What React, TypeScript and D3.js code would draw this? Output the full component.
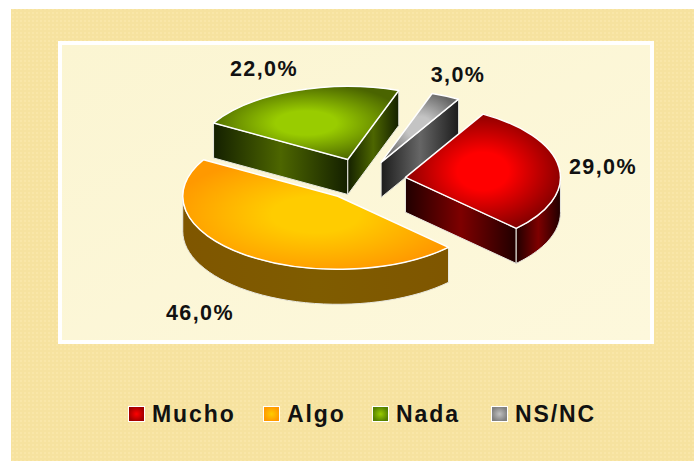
import React from 'react';
import * as d3 from 'd3';

const categories = ['Mucho', 'Algo', 'Nada', 'NS/NC'];
const values = [29, 46, 22, 3];
const explode = [0.27, 0.28, 0.3, 0.265];
const labelPos = [[603, 174], [200, 320], [264, 76], [458, 82]];
const legendX = [128, 263, 372, 491];

const topColors = [['#ff0000', '#7d0000'], ['#ffcc00', '#ff9900'], ['#99cc00', '#4a6400'], ['#c4c4c4', '#666666']];
const wallColors = [['#200000', '#7e0000'], ['#7f5600', '#7f5c00'], ['#142000', '#4d6600'], ['#1c1c1c', '#666666']];
const legendColors = [['#ff0000', '#a00000'], ['#ffcc00', '#ff9900'], ['#99cc00', '#558000'], ['#c0c0c0', '#808080']];

const cx = 364, cy = 180, rx = 155, ry = 73, depth = 35;
const start = (30 * Math.PI) / 180;

const pie = d3.pie<number>().sort(null).startAngle(start).endAngle(start + 2 * Math.PI);
const arcs = pie(values);
const arcPath = d3.arc<d3.PieArcDatum<number>>().innerRadius(0).outerRadius(rx);
const line = d3.line<number[]>();

const px = (a: number) => Math.sin(a) * rx;
const py = (a: number) => -Math.cos(a) * ry;

function apex(a: d3.PieArcDatum<number>, i: number) {
  const mid = (a.startAngle + a.endAngle) / 2;
  return [cx + explode[i] * px(mid), cy + explode[i] * py(mid)];
}

function radialWall(c: number[], ang: number) {
  const x = c[0] + px(ang), y = c[1] + py(ang);
  return line([c, [x, y], [x, y + depth], [c[0], c[1] + depth]]) + 'Z';
}

function outerWall(c: number[], a0: number, a1: number) {
  const n = 40;
  const pts = d3.range(n + 1).map(k => a0 + ((a1 - a0) * k) / n);
  const top = pts.map(a => [c[0] + px(a), c[1] + py(a)]);
  const bot = pts.slice().reverse().map(a => [c[0] + px(a), c[1] + py(a) + depth]);
  return line([...top, ...bot]) + 'Z';
}

// walls that face the viewer for one slice
function walls(a: d3.PieArcDatum<number>, i: number) {
  const c = apex(a, i);
  const out: string[] = [];
  if (Math.sin(a.startAngle) < 0) out.push(radialWall(c, a.startAngle));
  if (Math.sin(a.endAngle) > 0) out.push(radialWall(c, a.endAngle));
  const lo = Math.max(a.startAngle, Math.PI / 2);
  const hi = Math.min(a.endAngle, (3 * Math.PI) / 2);
  if (hi > lo) out.push(outerWall(c, lo, hi));
  return out;
}

const drawOrder = [3, 2, 0, 1];

export default function App() {
  return (
    <svg width={694} height={461} style={{ position: 'absolute', left: 0, top: 0, background: '#fff' }}>
      <defs>
        <pattern id="paper" width="4" height="4" patternUnits="userSpaceOnUse">
          <rect width="4" height="4" fill="#f6e29f" />
          <rect width="2" height="2" fill="#f9e6a8" />
        </pattern>
        <linearGradient id="plotBg" x1="0" y1="0" x2="1" y2="1">
          <stop offset="0" stopColor="#fbf5d2" />
          <stop offset="1" stopColor="#fdf8dc" />
        </linearGradient>
        {categories.map((_, i) => (
          <React.Fragment key={i}>
            <radialGradient id={`top${i}`} r="0.55">
              <stop offset="0" stopColor={topColors[i][0]} />
              <stop offset="0.3" stopColor={topColors[i][0]} />
              <stop offset="1" stopColor={topColors[i][1]} />
            </radialGradient>
            <linearGradient id={`wall${i}`}>
              <stop offset="0" stopColor={wallColors[i][0]} />
              <stop offset="0.5" stopColor={wallColors[i][1]} />
              <stop offset="1" stopColor={wallColors[i][0]} />
            </linearGradient>
            <radialGradient id={`leg${i}`}>
              <stop offset="0" stopColor={legendColors[i][0]} />
              <stop offset="1" stopColor={legendColors[i][1]} />
            </radialGradient>
          </React.Fragment>
        ))}
      </defs>

      <rect x={11} y={9} width={683} height={452} fill="url(#paper)" />
      <rect x={60} y={43} width={592} height={299} fill="url(#plotBg)" stroke="#fff" strokeWidth={4} />

      {drawOrder.map(i => {
        const a = arcs[i];
        const c = apex(a, i);
        return (
          <g key={i}>
            {walls(a, i).map((d, k) => (
              <path key={k} d={d} fill={`url(#wall${i})`} stroke="#e8e8e0" strokeWidth={1} strokeLinejoin="round" />
            ))}
            <path
              d={arcPath(a) || ''}
              transform={`translate(${c[0]},${c[1]}) scale(1,${ry / rx})`}
              fill={`url(#top${i})`}
              stroke="#fff"
              strokeWidth={1.5}
              vectorEffect="non-scaling-stroke"
              strokeLinejoin="round"
            />
          </g>
        );
      })}

      <g fontFamily="'Liberation Sans', Arial, sans-serif" fontSize={21.5} fontWeight={700} fill="#111" letterSpacing={1.4}>
        {arcs.map((a, i) => (
          <text key={i} x={labelPos[i][0]} y={labelPos[i][1]} textAnchor="middle">
            {d3.format('.1f')(a.data).replace('.', ',') + '%'}
          </text>
        ))}
      </g>

      <g fontFamily="'Liberation Sans', Arial, sans-serif" fontSize={23} fontWeight={700} fill="#111" letterSpacing={1.9}>
        {categories.map((name, i) => (
          <g key={name}>
            <rect x={legendX[i] + 0.5} y={406.5} width={16} height={15} fill={`url(#leg${i})`} stroke="#fff" strokeWidth={1} />
            <text x={legendX[i] + 24} y={422}>{name}</text>
          </g>
        ))}
      </g>
    </svg>
  );
}
